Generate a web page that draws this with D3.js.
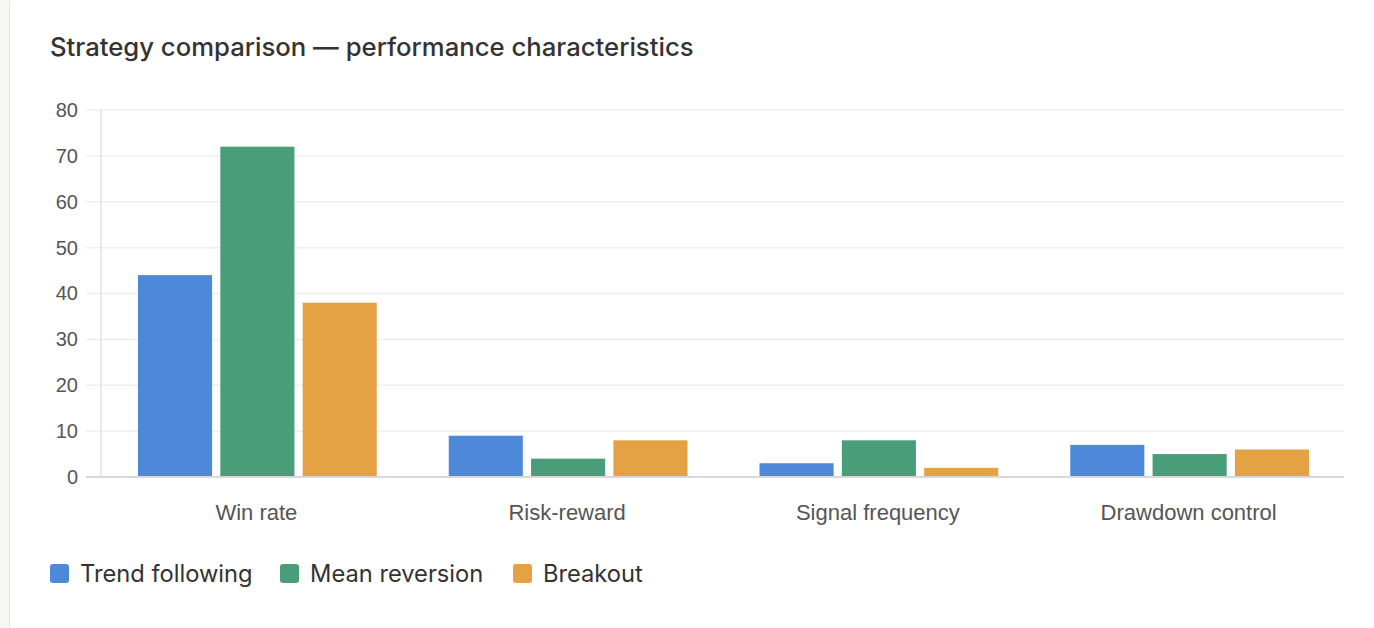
<!DOCTYPE html>
<html>
<head>
<meta charset="utf-8">
<script src="https://cdn.jsdelivr.net/npm/d3@7"></script>
<style>
  html, body { margin: 0; padding: 0; background: #f6f6f4; }
  #card { position: absolute; left: 9px; top: -12px; width: 1400px; height: 660px;
          background: #fff; border: 1px solid #e3e3e0; border-radius: 14px; }
  svg { position: absolute; left: 0; top: 0; }
</style>
</head>
<body>
<div id="card"></div>
<svg id="chart" width="1374" height="628"></svg>
<script>
var categories = ["Win rate", "Risk-reward", "Signal frequency", "Drawdown control"];
var seriesNames = ["Trend following", "Mean reversion", "Breakout"];
var seriesColors = ["#4e88d8", "#4a9d79", "#e4a244"];
var trendFollowing = [44, 9, 3, 7];
var meanReversion = [72, 4, 8, 5];
var breakout = [38, 8, 2, 6];
var yTicks = [0, 10, 20, 30, 40, 50, 60, 70, 80];

var seriesValues = [trendFollowing, meanReversion, breakout];

var svg = d3.select("#chart");
var plotLeft = 101, plotRight = 1344, plotTop = 110, plotBottom = 477;

svg.append("text")
    .attr("x", 50).attr("y", 56)
    .attr("font-family", "Inter, 'Open Sans', sans-serif")
    .attr("font-size", 25.7).attr("font-weight", 500)
    .attr("fill", "#333")
    .text("Strategy comparison \u2014 performance characteristics");

var x = d3.scaleBand().domain(categories).range([plotLeft, plotRight]).paddingInner(0).paddingOuter(0);
var x1 = d3.scaleBand().domain(seriesNames).range([37, x.bandwidth() - 35]).paddingInner(0.1);
var y = d3.scaleLinear().domain([0, 80]).range([plotBottom, plotTop]);

// gridlines
svg.append("g").selectAll("line").data(yTicks.filter(function(d){ return d > 0; }))
  .enter().append("line")
    .attr("x1", 86).attr("x2", plotRight)
    .attr("y1", function(d){ return y(d); }).attr("y2", function(d){ return y(d); })
    .attr("stroke", "#efefef").attr("stroke-width", 1.5);

// y axis line
svg.append("line").attr("x1", plotLeft).attr("x2", plotLeft).attr("y1", plotTop).attr("y2", plotBottom)
    .attr("stroke", "#e2e2e2").attr("stroke-width", 1.5);

var yAxis = svg.append("g").attr("transform", "translate(" + 86 + ",0)")
    .call(d3.axisLeft(y).tickValues(yTicks).tickSize(0).tickPadding(8));
yAxis.select(".domain").remove();
yAxis.selectAll("text")
    .attr("font-family", "'Liberation Sans', Arial, sans-serif")
    .attr("font-size", 20).attr("fill", "#555");

// bars
var groups = svg.append("g").selectAll("g").data(categories).enter().append("g")
    .attr("transform", function(d){ return "translate(" + x(d) + ",0)"; });
groups.selectAll("rect")
  .data(function(d, i){ return seriesNames.map(function(s, j){ return {s: s, v: seriesValues[j][i], c: seriesColors[j]}; }); })
  .enter().append("rect")
    .attr("x", function(d){ return x1(d.s); })
    .attr("width", x1.bandwidth())
    .attr("y", function(d){ return y(d.v); })
    .attr("height", function(d){ return y(0) - y(d.v); })
    .attr("fill", function(d){ return d.c; });

// x axis
svg.append("line").attr("x1", 86).attr("x2", plotRight).attr("y1", plotBottom).attr("y2", plotBottom)
    .attr("stroke", "#d8d8d8").attr("stroke-width", 2);
var xAxis = svg.append("g").attr("transform", "translate(0," + plotBottom + ")")
    .call(d3.axisBottom(x).tickSize(0).tickPadding(27));
xAxis.select(".domain").remove();
xAxis.selectAll("text")
    .attr("font-family", "'Liberation Sans', Arial, sans-serif")
    .attr("font-size", 22).attr("fill", "#555");

// legend
var legendX = [50, 280, 513];
var legend = svg.append("g").selectAll("g").data(seriesNames).enter().append("g")
    .attr("transform", function(d, i){ return "translate(" + legendX[i] + ",564)"; });
legend.append("rect").attr("width", 19).attr("height", 19).attr("rx", 3)
    .attr("fill", function(d, i){ return seriesColors[i]; });
legend.append("text").attr("x", 30).attr("y", 18)
    .attr("font-family", "Inter, 'Open Sans', sans-serif")
    .attr("font-size", 23.7).attr("fill", "#333")
    .text(function(d){ return d; });
</script>
</body>
</html>
